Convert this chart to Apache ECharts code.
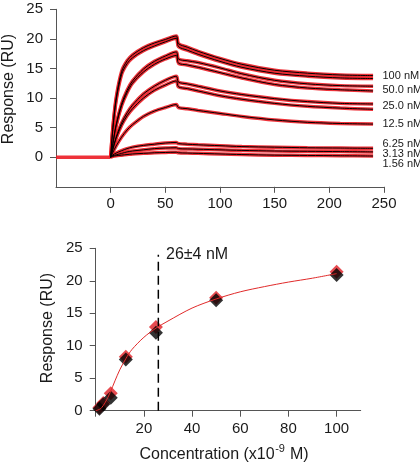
<!DOCTYPE html>
<html><head><meta charset="utf-8">
<script src="https://cdn.jsdelivr.net/npm/echarts@6/dist/echarts.min.js"></script>
<style>html,body{margin:0;padding:0;background:#fff}#c{width:420px;height:463px}</style>
</head><body><div id="c"></div>
<script>
// ---------- Top panel: sensorgrams ----------
const times = [0, 2, 5, 10, 15, 20, 30, 40, 50, 60, 62, 70, 80, 100, 120, 150, 180, 210, 240];
const baseTimes = [-50, 0];
const baseResp = [0, 0];
const fit100a = [0, 5.0, 10.0, 14.5, 16.3, 17.3, 18.5, 19.3, 19.9, 20.5, 19.2, 18.6, 17.9, 16.7, 15.7, 14.7, 14.2, 13.9, 13.8];
const fit100b = [0, 4.7, 9.6, 14.0, 15.8, 16.8, 18.0, 18.8, 19.5, 20.1, 18.7, 18.1, 17.4, 16.2, 15.2, 14.2, 13.7, 13.4, 13.3];
const fit50a = [0, 2.3, 5.5, 9.0, 11.3, 12.9, 14.9, 16.2, 17.1, 17.8, 16.6, 16.3, 16.0, 15.1, 14.1, 13.0, 12.4, 12.1, 12.0];
const fit50b = [0, 2.2, 5.3, 8.7, 10.9, 12.5, 14.4, 15.7, 16.6, 17.2, 15.9, 15.6, 15.2, 14.3, 13.4, 12.3, 11.7, 11.4, 11.2];
const fit25a = [0, 1.4, 3.4, 5.8, 7.5, 8.8, 10.7, 12.0, 13.0, 13.7, 12.7, 12.4, 12.0, 11.2, 10.6, 9.9, 9.4, 9.1, 9.0];
const fit25b = [0, 1.3, 3.2, 5.4, 7.0, 8.2, 10.0, 11.3, 12.2, 12.9, 11.9, 11.6, 11.2, 10.4, 9.8, 9.1, 8.6, 8.3, 8.1];
const fit12 = [0, 0.8, 1.9, 3.4, 4.6, 5.5, 6.9, 7.8, 8.4, 8.9, 8.4, 8.2, 7.9, 7.4, 6.9, 6.3, 5.9, 5.7, 5.6];
const fit6 = [0, 0.4, 0.7, 1.1, 1.45, 1.7, 2.0, 2.2, 2.4, 2.5, 2.3, 2.2, 2.1, 1.95, 1.8, 1.7, 1.6, 1.55, 1.5];
const fit3 = [0, 0.25, 0.4, 0.65, 0.9, 1.05, 1.25, 1.45, 1.55, 1.6, 1.45, 1.4, 1.35, 1.25, 1.15, 1.05, 1.0, 0.95, 0.9];
const fit1 = [0, 0.15, 0.25, 0.35, 0.45, 0.55, 0.65, 0.75, 0.8, 0.85, 0.75, 0.7, 0.65, 0.55, 0.45, 0.35, 0.3, 0.25, 0.2];
const traces = [fit100a, fit100b, fit50a, fit50b, fit25a, fit25b, fit12, fit6, fit3, fit1];
const concLabels = ['100 nM', '50.0 nM', '25.0 nM', '12.5 nM', '6.25 nM', '3.13 nM', '1.56 nM'];
const topXTicks = [0, 50, 100, 150, 200, 250];
const topYTicks = [0, 5, 10, 15, 20, 25];

// ---------- Bottom panel: binding isotherm ----------
const conc = [1.56, 3.13, 6.25, 12.5, 25, 50, 100];
const respRed = [0.5, 1.2, 2.7, 8.3, 12.9, 17.4, 21.4];
const respBlack = [0.3, 1.0, 2.0, 7.9, 12.0, 17.0, 20.9];
const curveConc = [0, 2, 4, 6, 8, 10, 12.5, 15, 20, 25, 30, 40, 50, 60, 70, 80, 90, 100];
const curveResp = [0, 0.3, 1.3, 2.8, 4.6, 6.3, 8.0, 9.4, 11.3, 12.7, 13.8, 15.8, 17.2, 18.3, 19.1, 19.8, 20.4, 21.1];
const kd = 26;
const kdLineRange = [0, 24];
const kdLabel = '26±4 nM';
const botXTicks = [20, 40, 60, 80, 100];
const xTitleParts = ['Concentration (x10', '-9', ' M)'];

const FONT = '"Liberation Sans", Arial, sans-serif';
const zip = (a, b) => a.map((v, i) => [v, b[i]]);
const axisCol = '#555';
const txtCol = '#1a1a1a';
const red = '#ec1c24';

const series = [];
series.push({type: 'line', xAxisIndex: 0, yAxisIndex: 0, data: zip(baseTimes, baseResp), symbol: 'none',
  lineStyle: {color: red, width: 3.5, opacity: 0.9}, silent: true});
traces.forEach(tr => series.push({type: 'line', xAxisIndex: 0, yAxisIndex: 0, data: zip(times, tr), symbol: 'none', smooth: 0.3,
  lineStyle: {color: red, width: 3.5, opacity: 0.9}, silent: true}));
traces.forEach(tr => series.push({type: 'line', xAxisIndex: 0, yAxisIndex: 0, data: zip(times, tr), symbol: 'none', smooth: 0.3,
  lineStyle: {color: '#000', width: 1}, silent: true}));

series.push({type: 'line', xAxisIndex: 1, yAxisIndex: 1, data: [[kd, kdLineRange[0]], [kd, kdLineRange[1]]], symbol: 'none',
  lineStyle: {color: '#000', width: 1.5, type: [9, 5]}, silent: true});
series.push({type: 'line', xAxisIndex: 1, yAxisIndex: 1, data: zip(curveConc, curveResp), symbol: 'none', smooth: 0.3,
  lineStyle: {color: '#e02a2a', width: 1}, silent: true});
series.push({type: 'scatter', xAxisIndex: 1, yAxisIndex: 1, data: zip(conc, respRed), symbol: 'diamond', symbolSize: 14,
  itemStyle: {color: '#e01e24'}, silent: true});
series.push({type: 'scatter', xAxisIndex: 1, yAxisIndex: 1, data: zip(conc, respBlack), symbol: 'diamond', symbolSize: 14,
  itemStyle: {color: '#000'}, silent: true});

function xAx(grid, min, max, interval, ticks, labels, margin) {
  return {gridIndex: grid, type: 'value', min, max, interval,
    axisLine: {onZero: false, lineStyle: {color: axisCol, width: 1}},
    axisTick: {length: 6, customValues: ticks, lineStyle: {color: axisCol}},
    axisLabel: {customValues: labels, fontSize: 15, color: txtCol, fontFamily: FONT, margin},
    splitLine: {show: false}};
}
function yAx(grid, min, max, interval, ticks, margin) {
  return {gridIndex: grid, type: 'value', min, max, interval,
    axisLine: {show: true, onZero: false, lineStyle: {color: axisCol, width: 1}},
    axisTick: {show: true, length: 6, customValues: ticks, lineStyle: {color: axisCol}},
    axisLabel: {customValues: ticks, fontSize: 15, color: txtCol, fontFamily: FONT, margin},
    splitLine: {show: false}};
}

const labelY = [76, 89.5, 106, 123.5, 144, 154, 164];
const graphic = concLabels.map((t, i) => ({type: 'text', x: 382.5, y: labelY[i],
  style: {text: t, font: '11px ' + FONT, fill: txtCol, textAlign: 'left', textVerticalAlign: 'middle'}}));
graphic.push({type: 'text', x: 9, y: 89, rotation: Math.PI / 2,
  style: {text: 'Response (RU)', font: '16px ' + FONT, fill: txtCol, textAlign: 'center', textVerticalAlign: 'middle'}});
graphic.push({type: 'text', x: 48, y: 328, rotation: Math.PI / 2,
  style: {text: 'Response (RU)', font: '16px ' + FONT, fill: txtCol, textAlign: 'center', textVerticalAlign: 'middle'}});
graphic.push({type: 'text', x: 166, y: 255,
  style: {text: kdLabel, font: '16px ' + FONT, fill: txtCol, textAlign: 'left', textVerticalAlign: 'middle'}});

// x-axis title with superscript, built from separately measured pieces
const ctx = document.createElement('canvas').getContext('2d');
const fMain = '16px ' + FONT, fSup = '11px ' + FONT;
ctx.font = fMain; const w1 = ctx.measureText(xTitleParts[0]).width; const w3 = ctx.measureText(xTitleParts[2]).width;
ctx.font = fSup; const w2 = ctx.measureText(xTitleParts[1]).width + 1;
const x0 = 224 - (w1 + w2 + w3) / 2;
graphic.push({type: 'text', x: x0, y: 455, style: {text: xTitleParts[0], font: fMain, fill: txtCol, textAlign: 'left', textVerticalAlign: 'middle'}});
graphic.push({type: 'text', x: x0 + w1 + 0.5, y: 449, style: {text: xTitleParts[1], font: fSup, fill: txtCol, textAlign: 'left', textVerticalAlign: 'middle'}});
graphic.push({type: 'text', x: x0 + w1 + w2, y: 455, style: {text: xTitleParts[2], font: fMain, fill: txtCol, textAlign: 'left', textVerticalAlign: 'middle'}});

const chart = echarts.init(document.getElementById('c'), null, {renderer: 'canvas'});
chart.setOption({
  animation: false,
  backgroundColor: '#fff',
  grid: [
    {left: 56, top: 9.3, width: 328, height: 177.5},
    {left: 95.7, top: 248.3, width: 265, height: 162.4}
  ],
  xAxis: [
    xAx(0, -50, 250, 50, topXTicks, topXTicks, 10),
    xAx(1, 0, 110, 20, [0].concat(botXTicks), botXTicks, 11)
  ],
  yAxis: [
    yAx(0, -5, 25, 5, topYTicks, 13),
    yAx(1, 0, 25, 5, topYTicks, 13)
  ],
  series,
  graphic
});
</script></body></html>
